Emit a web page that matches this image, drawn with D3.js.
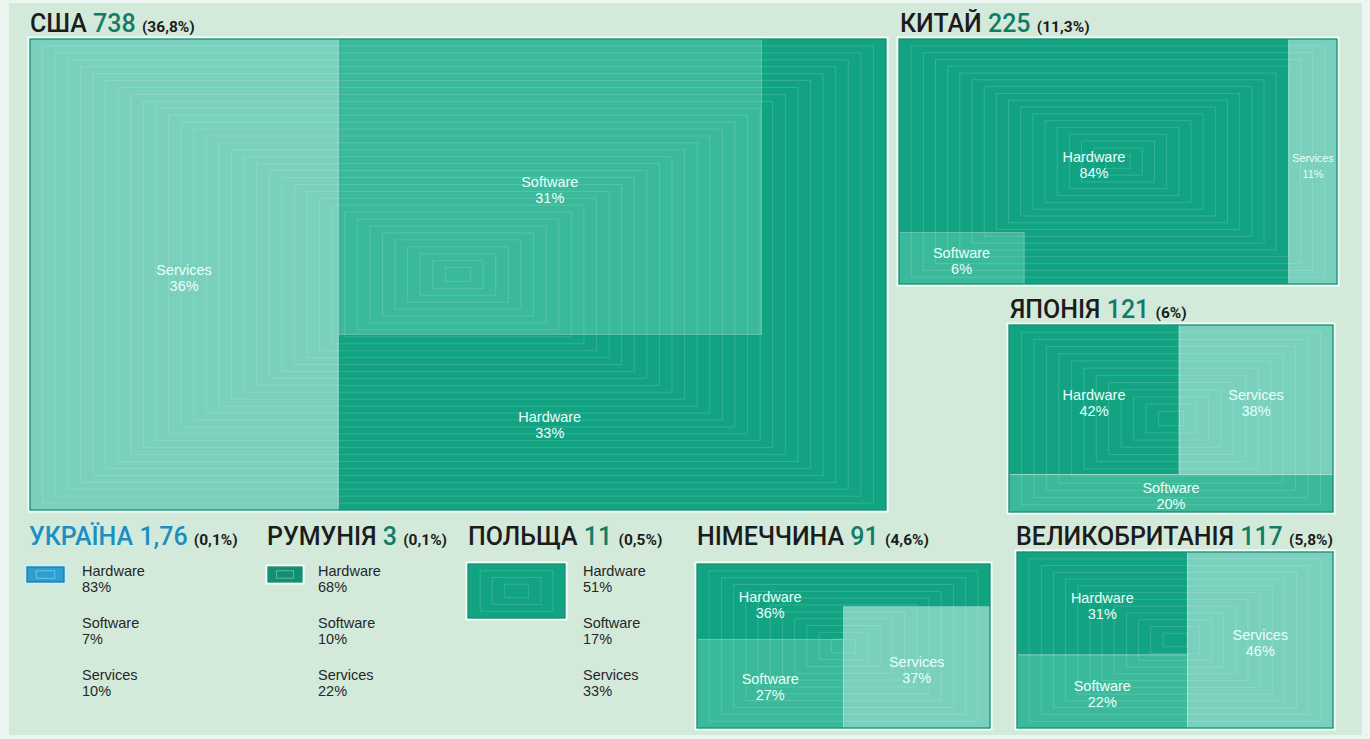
<!DOCTYPE html>
<html>
<head>
<meta charset="UTF-8">
<title>IT market by country</title>
<script src="https://cdn.jsdelivr.net/npm/d3@7/dist/d3.min.js"></script>
<style type="text/css">
body, html {
    margin: 0;
    padding: 0;
    background: #ecf6f0;
}
svg { display: block; }
.title { font-family: Roboto, "Noto Sans", sans-serif; }
.cell-label {
    font-family: "Liberation Sans", Arial, sans-serif;
    fill: #eafffa;
    text-anchor: middle;
}
.list {
    font-family: "Liberation Sans", Arial, sans-serif;
    font-size: 14.5px;
    fill: #262626;
}
</style>
</head>
<body>

<div class="chart"></div>

<script type="text/javascript">
// ---- data (billion $, share of world market, segment split in %) ----
var countries  = ["США", "КИТАЙ", "ЯПОНІЯ", "УКРАЇНА", "РУМУНІЯ", "ПОЛЬЩА", "НІМЕЧЧИНА", "ВЕЛИКОБРИТАНІЯ"];
var totals     = [738, 225, 121, 1.76, 3, 11, 91, 117];
var worldShare = [36.8, 11.3, 6, 0.1, 0.1, 0.5, 4.6, 5.8];
var segments   = ["Hardware", "Software", "Services"];
var hardware   = [33, 84, 42, 83, 68, 51, 36, 31];
var software   = [31, 6, 20, 7, 10, 17, 27, 22];
var services   = [36, 11, 38, 10, 22, 33, 37, 46];

// ---- layout: where each country panel sits ----
var width = 1370, height = 739;
var frames = [
    {kind: "usa",     x: 30,   y: 39,  w: 856, h: 471, tx: 30,   ty: 32},
    {kind: "china",   x: 899,  y: 39,  w: 438, h: 245, tx: 900,  ty: 32},
    {kind: "japan",   x: 1009, y: 325, w: 324, h: 187, tx: 1010, ty: 318},
    {kind: "icon",    x: 27,   y: 567, w: 37,  h: 15,  tx: 29,   ty: 545, list: 82,  blue: true},
    {kind: "icon",    x: 268,  y: 567, w: 34,  h: 15,  tx: 267,  ty: 545, list: 318},
    {kind: "poland",  x: 468,  y: 564, w: 97,  h: 54,  tx: 468,  ty: 545, list: 583},
    {kind: "germany", x: 697,  y: 564, w: 293, h: 164, tx: 697,  ty: 545},
    {kind: "uk",      x: 1017, y: 552, w: 316, h: 176, tx: 1016, ty: 545}
];

var color = d3.scaleOrdinal()
    .domain(segments)
    .range(["#12a383", "#3bb99b", "#78d0bd"]);

function fmt(v) { return String(v).replace(".", ","); }

// cells in unit space [0,1]x[0,1], built from the segment shares
function layout(kind, i) {
    var hw = hardware[i] / 100, sw = software[i] / 100, sv = services[i] / 100;
    var c = [];
    if (kind === "usa") {
        var hf = 0.627, sW = sw / hf;
        c.push({seg: "Hardware", x0: sv, x1: 1, y0: 0, y1: 1, lx: sv + sW / 2, ly: (hf + 1) / 2});
        c.push({seg: "Software", x0: sv, x1: sv + sW, y0: 0, y1: hf});
        c.push({seg: "Services", x0: 0, x1: sv, y0: 0, y1: 1});
    } else if (kind === "china") {
        var sh = 0.21;
        c.push({seg: "Hardware", x0: 0, x1: 1 - sv, y0: 0, y1: 1});
        c.push({seg: "Software", x0: 0, x1: sw / sh, y0: 1 - sh, y1: 1});
        c.push({seg: "Services", x0: 1 - sv, x1: 1, y0: 0, y1: 1});
    } else if (kind === "japan") {
        var split = hw / (hw + sv);
        c.push({seg: "Hardware", x0: 0, x1: split, y0: 0, y1: 1 - sw});
        c.push({seg: "Services", x0: split, x1: 1, y0: 0, y1: 1 - sw});
        c.push({seg: "Software", x0: 0, x1: 1, y0: 1 - sw, y1: 1});
    } else if (kind === "germany") {
        var half = 0.5;
        c.push({seg: "Hardware", x0: 0, x1: 1, y0: 0, y1: 1, lx: half / 2, ly: (1 - sw / half) / 2});
        c.push({seg: "Software", x0: 0, x1: half, y0: 1 - sw / half, y1: 1});
        c.push({seg: "Services", x0: half, x1: 1, y0: 1 - sv / half, y1: 1});
    } else if (kind === "uk") {
        var hs = hw / (hw + sw);
        c.push({seg: "Hardware", x0: 0, x1: 1 - sv, y0: 0, y1: hs});
        c.push({seg: "Software", x0: 0, x1: 1 - sv, y0: hs, y1: 1});
        c.push({seg: "Services", x0: 1 - sv, x1: 1, y0: 0, y1: 1});
    } else {
        c.push({seg: "Hardware", x0: 0, x1: 1, y0: 0, y1: 1, nolabel: true});
    }
    c.forEach(function (d) {
        if (d.lx === undefined) d.lx = (d.x0 + d.x1) / 2;
        if (d.ly === undefined) d.ly = (d.y0 + d.y1) / 2;
    });
    return c;
}

var svg = d3.select(".chart")
    .append("svg")
    .attr("width", width)
    .attr("height", height);

svg.append("rect")
    .attr("x", 9).attr("y", 3)
    .attr("width", 1353).attr("height", 732)
    .attr("fill", "#d3eadb");

var defs = svg.append("defs");

frames.forEach(function (f, i) {
    var g = svg.append("g").attr("class", "country");
    var x = d3.scaleLinear().domain([0, 1]).range([f.x, f.x + f.w]);
    var y = d3.scaleLinear().domain([0, 1]).range([f.y, f.y + f.h]);
    var small = f.kind === "icon";

    // title
    var t = g.append("text")
        .attr("class", "title")
        .attr("x", f.tx)
        .attr("y", f.ty);
    t.append("tspan")
        .attr("font-size", 25)
        .attr("font-weight", 500)
        .attr("fill", f.blue ? "#1b8ec4" : "#1c1c1c")
        .text(countries[i] + " ");
    t.append("tspan")
        .attr("font-size", 25)
        .attr("font-weight", 500)
        .attr("fill", f.blue ? "#1b8ec4" : "#127d67")
        .text(fmt(totals[i]) + " ");
    t.append("tspan")
        .attr("font-size", 15.5)
        .attr("font-weight", 700)
        .attr("fill", "#1c1c1c")
        .text("(" + fmt(worldShare[i]) + "%)");

    // light halo round the box
    g.append("rect")
        .attr("x", x(0) - 1.5).attr("y", y(0) - 1.5)
        .attr("width", f.w + 3).attr("height", f.h + 3)
        .attr("fill", "none")
        .attr("stroke", f.blue ? "#c4f0ff" : "#effffa")
        .attr("stroke-width", 2);

    var cells = layout(f.kind, i);

    g.selectAll("rect.cell")
        .data(cells)
        .enter()
        .append("rect")
        .attr("class", "cell")
        .attr("x", function (d) { return x(d.x0); })
        .attr("y", function (d) { return y(d.y0); })
        .attr("width", function (d) { return x(d.x1) - x(d.x0); })
        .attr("height", function (d) { return y(d.y1) - y(d.y0); })
        .attr("fill", function (d) {
            if (f.blue) return "#2a9fd2";
            if (small) return "#10906f";
            return color(d.seg);
        })
        .attr("stroke", "rgba(255,255,255,0.3)")
        .attr("stroke-width", 1);

    // concentric rectangles pattern, clipped to the box
    var clipId = "clip" + i;
    defs.append("clipPath").attr("id", clipId)
        .append("rect")
        .attr("x", x(0)).attr("y", y(0))
        .attr("width", f.w).attr("height", f.h);
    var n = Math.max(2, Math.round(f.h / 2 / 7));
    var rings = d3.range(1, n);
    g.append("g")
        .attr("clip-path", "url(#" + clipId + ")")
        .selectAll("rect")
        .data(rings)
        .enter()
        .append("rect")
        .attr("x", function (k) { return x(0.5 - k / n / 2); })
        .attr("y", function (k) { return y(0.5 - k / n / 2); })
        .attr("width", function (k) { return x(0.5 + k / n / 2) - x(0.5 - k / n / 2); })
        .attr("height", function (k) { return y(0.5 + k / n / 2) - y(0.5 - k / n / 2); })
        .attr("fill", "none")
        .attr("stroke", "#ffffff")
        .attr("stroke-opacity", small ? 0.35 : 0.15)
        .attr("stroke-width", 1);

    // border
    g.append("rect")
        .attr("x", x(0)).attr("y", y(0))
        .attr("width", f.w).attr("height", f.h)
        .attr("fill", "none")
        .attr("stroke", f.blue ? "#0d6f9c" : "#0b8466")
        .attr("stroke-width", 1.2);

    var vals = {Hardware: hardware[i], Software: software[i], Services: services[i]};

    // labels inside cells, shrunk when the cell is narrow
    var lab = g.selectAll("text.cell-label")
        .data(cells.filter(function (d) { return !d.nolabel; }))
        .enter()
        .append("text")
        .attr("class", "cell-label")
        .attr("font-size", function (d) {
            return Math.min(14.5, (x(d.x1) - x(d.x0) - 4) / 4.1);
        })
        .attr("x", function (d) { return x(d.lx); })
        .attr("y", function (d) { return y(d.ly); });
    lab.append("tspan").text(function (d) { return d.seg; });
    lab.append("tspan")
        .attr("x", function (d) { return x(d.lx); })
        .attr("dy", 16)
        .text(function (d) { return vals[d.seg] + "%"; });

    // side list for the small markets
    if (f.list !== undefined) {
        var ly = d3.scalePoint().domain(segments).range([576, 680]);
        var item = g.selectAll("text.list")
            .data(segments)
            .enter()
            .append("text")
            .attr("class", "list")
            .attr("x", f.list)
            .attr("y", function (s) { return ly(s); });
        item.append("tspan").text(function (s) { return s; });
        item.append("tspan")
            .attr("x", f.list)
            .attr("dy", 16)
            .text(function (s) { return vals[s] + "%"; });
    }
});
</script>
</body>
</html>
